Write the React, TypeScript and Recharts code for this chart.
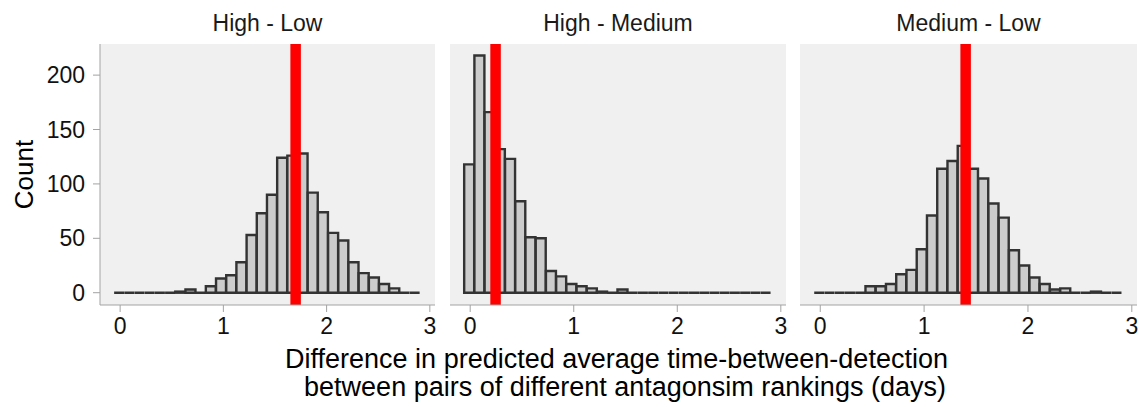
import React from 'react';
import { ComposedChart, Bar, XAxis, YAxis, CartesianGrid, ReferenceLine } from 'recharts';

// 30 histogram bins shared by every facet (bin midpoints, days)
const binMids = [
  -0.0087, 0.09, 0.1887, 0.2874, 0.3861, 0.4848, 0.5835, 0.6822, 0.7809, 0.8796,
  0.9783, 1.077, 1.1757, 1.2744, 1.3731, 1.4718, 1.5705, 1.6692, 1.7679, 1.8666,
  1.9653, 2.064, 2.1627, 2.2614, 2.3601, 2.4588, 2.5575, 2.6562, 2.7549, 2.8536,
];

const highLowCounts = [
  0, 0, 0, 0, 0, 0, 1, 3, 0, 6,
  13, 16, 28, 53, 73, 90, 124, 126, 128, 92,
  74, 55, 48, 28, 18, 14, 8, 4, 0, 0,
];

const highMediumCounts = [
  118, 218, 166, 132, 123, 84, 51, 50, 20, 15,
  8, 6, 4, 1, 0, 3, 0, 0, 0, 0,
  0, 0, 0, 0, 0, 0, 0, 0, 0, 0,
];

const mediumLowCounts = [
  0, 0, 0, 0, 0, 6, 6, 8, 17, 21,
  40, 71, 114, 121, 135, 114, 105, 82, 69, 39,
  25, 14, 8, 3, 4, 0, 0, 1, 0, 0,
];

// observed difference for each pair (red line)
const observed = [1.7, 0.245, 1.4];

const facetTitles = ['High - Low', 'High - Medium', 'Medium - Low'];
const facetCounts = [highLowCounts, highMediumCounts, mediumLowCounts];

const xTicks = [0, 1, 2, 3];
const yTicks = [0, 50, 100, 150, 200];

const FONT = '"Liberation Sans", Arial, sans-serif';
const AXIS_GREY = '#a3a3a3';

const HistBar = (props: any) => {
  const { x, y, width, height } = props;
  return (
    <path
      d={`M${x},${y + height}V${y}H${x + width}V${y + height}Z`}
      fill="#cccccc"
      stroke="#333333"
      strokeWidth={2.4}
    />
  );
};

interface FacetProps {
  index: number;
  left: number;
  width: number;
  margin: { top: number; right: number; bottom: number; left: number };
  showY: boolean;
}

const Facet: React.FC<FacetProps> = ({ index, left, width, margin, showY }) => {
  const rows = binMids.map((x, i) => ({ x, count: facetCounts[index][i] }));
  return (
    <div style={{ position: 'absolute', left, top: 0 }}>
      <ComposedChart
        width={width}
        height={407}
        data={rows}
        margin={margin}
        barCategoryGap={0}
        barGap={0}
      >
        <CartesianGrid fill="#f0f0f0" stroke="none" horizontal={false} vertical={false} />
        <XAxis
          type="number"
          dataKey="x"
          domain={[-0.195, 3.05]}
          allowDataOverflow
          ticks={xTicks}
          height={40}
          tickSize={7}
          tickMargin={6}
          stroke={AXIS_GREY}
          tick={{ fill: '#111111', fontSize: 23, fontFamily: FONT }}
        />
        <YAxis
          type="number"
          domain={[-11.3, 228.6]}
          allowDataOverflow
          ticks={yTicks}
          hide={!showY}
          width={100}
          tickSize={7}
          tickMargin={8}
          stroke={AXIS_GREY}
          tick={{ fill: '#111111', fontSize: 23, fontFamily: FONT }}
        />
        <Bar dataKey="count" shape={HistBar} isAnimationActive={false} />
        <ReferenceLine x={observed[index]} stroke="#ff0000" strokeWidth={10.5} />
      </ComposedChart>
    </div>
  );
};

const App: React.FC = () => {
  const centers = [267.5, 618, 968.5];
  return (
    <div
      style={{
        position: 'absolute',
        left: 0,
        top: 0,
        width: 1141,
        height: 407,
        background: '#ffffff',
        fontFamily: FONT,
      }}
    >
      <Facet index={0} left={0} width={445} margin={{ top: 44, right: 10, bottom: 62, left: 0 }} showY />
      <Facet index={1} left={440} width={356} margin={{ top: 44, right: 10, bottom: 62, left: 10 }} showY={false} />
      <Facet index={2} left={790} width={351} margin={{ top: 44, right: 4, bottom: 62, left: 10 }} showY={false} />
      <svg
        width={1141}
        height={407}
        style={{ position: 'absolute', left: 0, top: 0, pointerEvents: 'none' }}
        fontFamily={FONT}
      >
        {facetTitles.map((t, i) => (
          <text key={t} x={centers[i]} y={30.7} textAnchor="middle" fontSize={23} fill="#1a1a1a">
            {t}
          </text>
        ))}
        <text
          x={33.3}
          y={174.5}
          transform="rotate(-90 33.3 174.5)"
          textAnchor="middle"
          fontSize={26}
          fill="#000000"
        >
          Count
        </text>
        <text x={616.5} y={368.3} textAnchor="middle" fontSize={27} fill="#000000">
          Difference in predicted average time-between-detection
        </text>
        <text x={625} y={396} textAnchor="middle" fontSize={27} fill="#000000">
          between pairs of different antagonsim rankings (days)
        </text>
      </svg>
    </div>
  );
};

export default App;
